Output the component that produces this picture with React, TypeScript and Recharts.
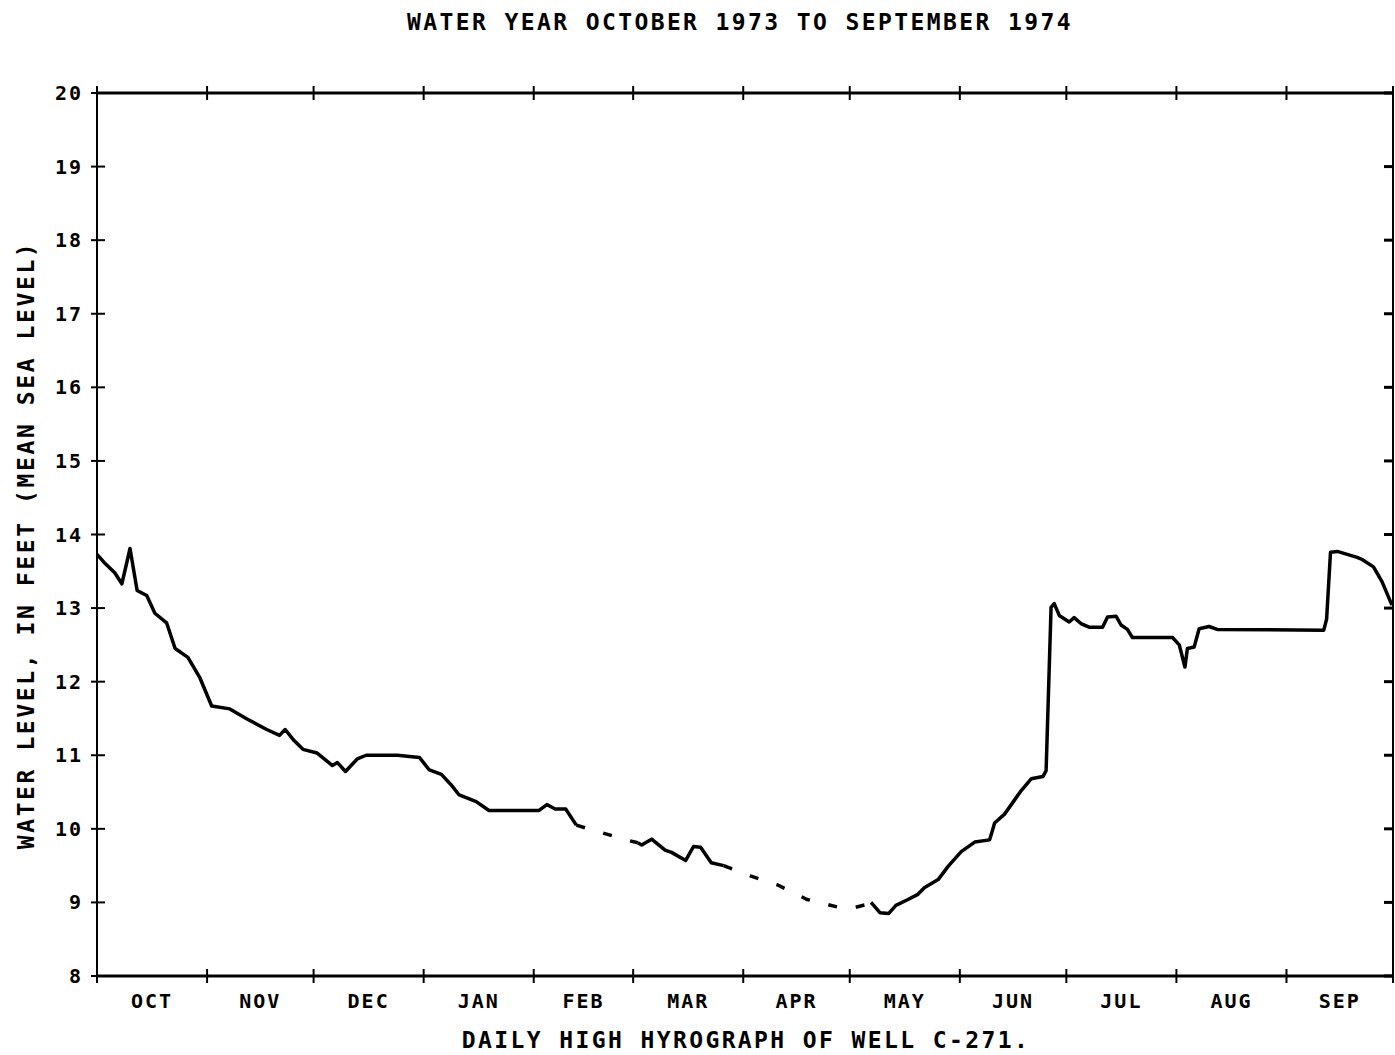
import React from "react";
import { LineChart, Line, XAxis, YAxis } from "recharts";

// Water-year calendar: day 0 = 1 October 1973, day 365 = 1 October 1974
const monthStarts = [0, 31, 61, 92, 123, 151, 182, 212, 243, 273, 304, 335, 365];
const monthNames = ["OCT", "NOV", "DEC", "JAN", "FEB", "MAR", "APR", "MAY", "JUN", "JUL", "AUG", "SEP"];
const levelTicks = [8, 9, 10, 11, 12, 13, 14, 15, 16, 17, 18, 19, 20];

// Recorded daily highs (null marks a break in the record)
const recordedDays = [
  0, 2, 5, 7, 9.3, 11.3, 14, 16.3, 19.6, 22, 25.6, 29, 32.3, 37.4, 42, 47.8, 51.4, 53, 55.5, 58,
  62, 66.3, 67.7, 70, 73.3, 75.8, 84.6, 90.8, 93.6, 97, 99.7, 102, 106.8, 110.4, 124.5, 126.7, 129,
  132, 135,
  140,
  152.3, 153.4, 156.2, 160, 161.8, 165.8, 168, 170, 173, 176.5,
  190,
  218, 220.5, 223, 225, 228.4, 231.2, 233, 236.9, 239.7, 243.4, 247.2, 251.4, 252.8, 255.6, 260.3,
  263.1, 266.4, 267.3, 268.7, 269.6, 271, 273.8, 275.2, 277.1, 279.4, 283.2, 284.6, 287, 288.4,
  290.2, 291.6, 302.9, 304.8, 306.4, 307.1, 309, 310.4, 313.2, 315.5, 345.5, 346.3, 347.4, 349.3,
  354.9, 356.3, 359.5, 361.9, 364.7,
];
const recordedLevels = [
  13.73, 13.62, 13.48, 13.33, 13.81, 13.24, 13.17, 12.93, 12.8, 12.45, 12.33, 12.05, 11.67, 11.63,
  11.5, 11.35, 11.27, 11.35, 11.2, 11.08, 11.03, 10.86, 10.9, 10.78, 10.95, 11.0, 11.0, 10.97, 10.8,
  10.74, 10.6, 10.46, 10.37, 10.25, 10.25, 10.33, 10.27, 10.27, 10.05,
  null,
  9.81, 9.78, 9.86, 9.71, 9.68, 9.57, 9.76, 9.75, 9.54, 9.5,
  null,
  9.0, 8.86, 8.85, 8.96, 9.04, 9.11, 9.2, 9.31, 9.49, 9.69, 9.82, 9.85, 10.08, 10.2, 10.52, 10.68,
  10.71, 10.79, 13.01, 13.06, 12.9, 12.81, 12.87, 12.79, 12.74, 12.74, 12.88, 12.89, 12.77, 12.71,
  12.6, 12.6, 12.5, 12.2, 12.45, 12.47, 12.72, 12.75, 12.71, 12.7, 12.85, 13.76, 13.77, 13.69,
  13.66, 13.56, 13.36, 13.04,
];

// Estimated levels across the breaks in the record
const estimatedDays = [135, 141.3, 149, 152.3, 160, 176.5, 184, 191.6, 200, 210, 212.4, 216.6, 218];
const estimatedLevels = [10.05, 9.96, 9.85, 9.81, null, 9.5, 9.36, 9.24, 9.04, 8.92, 8.92, 8.97, 9.0];

const recordedRows = recordedDays.map((day, i) => ({ day, level: recordedLevels[i] }));
const estimatedRows = estimatedDays.map((day, i) => ({ day, level: estimatedLevels[i] }));

const monthMids = monthNames.map((_, i) => (monthStarts[i] + monthStarts[i + 1]) / 2);
const bottomTicks = [...monthStarts, ...monthMids].sort((a, b) => a - b);
const midLabel = new Map(monthMids.map((m, i) => [m, monthNames[i]]));

const FONT = "'DejaVu Sans Mono', monospace";
const textStyle = { fontFamily: FONT, fontWeight: 700, fill: "#000" } as const;

function BottomTick(props: any) {
  const { x, y, payload } = props;
  const label = midLabel.get(payload.value);
  if (label) {
    return (
      <text x={x} y={y + 32} textAnchor="middle" fontSize={20} letterSpacing={2} style={textStyle}>
        {label}
      </text>
    );
  }
  return <line x1={x} x2={x} y1={y - 7} y2={y + 7} stroke="#000" strokeWidth={2} />;
}

function TopTick(props: any) {
  const { x, y } = props;
  return <line x1={x} x2={x} y1={y - 7} y2={y + 7} stroke="#000" strokeWidth={2} />;
}

function LeftTick(props: any) {
  const { x, y, payload } = props;
  return (
    <g>
      <line x1={x - 6} x2={x + 8} y1={y} y2={y} stroke="#000" strokeWidth={2} />
      <text x={x - 14} y={y + 7} textAnchor="end" fontSize={20} letterSpacing={2} style={textStyle}>
        {payload.value}
      </text>
    </g>
  );
}

function RightTick(props: any) {
  const { x, y } = props;
  return <line x1={x - 9} x2={x} y1={y} y2={y} stroke="#000" strokeWidth={3} />;
}

export default function App() {
  return (
    <div style={{ position: "absolute", left: 0, top: 0, width: 1395, height: 1055, background: "#fff" }}>
      <LineChart width={1395} height={1055} margin={{ top: 92, right: 1, bottom: 39, left: 37 }}>
        <XAxis
          xAxisId="bottom"
          dataKey="day"
          type="number"
          domain={[0, 365]}
          ticks={bottomTicks}
          interval={0}
          tick={<BottomTick />}
          tickLine={false}
          tickSize={0}
          tickMargin={0}
          height={40}
          axisLine={{ stroke: "#000", strokeWidth: 3 }}
        />
        <XAxis
          xAxisId="top"
          orientation="top"
          dataKey="day"
          type="number"
          domain={[0, 365]}
          ticks={monthStarts}
          interval={0}
          tick={<TopTick />}
          tickLine={false}
          tickSize={0}
          tickMargin={0}
          height={1}
          axisLine={{ stroke: "#000", strokeWidth: 3 }}
        />
        <YAxis
          yAxisId="left"
          type="number"
          domain={[8, 20]}
          ticks={levelTicks}
          interval={0}
          tick={<LeftTick />}
          tickLine={false}
          tickSize={0}
          tickMargin={0}
          width={60}
          axisLine={{ stroke: "#000", strokeWidth: 2 }}
        />
        <YAxis
          yAxisId="right"
          orientation="right"
          type="number"
          domain={[8, 20]}
          ticks={levelTicks}
          interval={0}
          tick={<RightTick />}
          tickLine={false}
          tickSize={0}
          tickMargin={0}
          width={1}
          axisLine={{ stroke: "#000", strokeWidth: 2 }}
        />
        {/* recorded levels on the bottom/left scales */}
        <Line
          xAxisId="bottom"
          yAxisId="left"
          data={recordedRows}
          dataKey="level"
          type="linear"
          stroke="#000"
          strokeWidth={3.5}
          strokeLinejoin="round"
          dot={false}
          activeDot={false}
          isAnimationActive={false}
        />
        {/* estimated levels on the top/right scales (same domains) */}
        <Line
          xAxisId="top"
          yAxisId="right"
          data={estimatedRows}
          dataKey="level"
          type="linear"
          stroke="#000"
          strokeWidth={3.5}
          strokeDasharray="9 19"
          dot={false}
          activeDot={false}
          isAnimationActive={false}
        />
      </LineChart>
      <svg
        width={1395}
        height={1055}
        style={{ position: "absolute", left: 0, top: 0, pointerEvents: "none" }}
      >
        <text x={740} y={30} textAnchor="middle" fontSize={23} letterSpacing={2.4} style={textStyle}>
          WATER YEAR OCTOBER 1973 TO SEPTEMBER 1974
        </text>
        <text x={746} y={1048} textAnchor="middle" fontSize={23} letterSpacing={2.4} style={textStyle}>
          DAILY HIGH HYROGRAPH OF WELL C-271.
        </text>
        <text
          x={34}
          y={545}
          textAnchor="middle"
          fontSize={23}
          letterSpacing={2.6}
          transform="rotate(-90 34 545)"
          style={textStyle}
        >
          WATER LEVEL, IN FEET (MEAN SEA LEVEL)
        </text>
      </svg>
    </div>
  );
}
